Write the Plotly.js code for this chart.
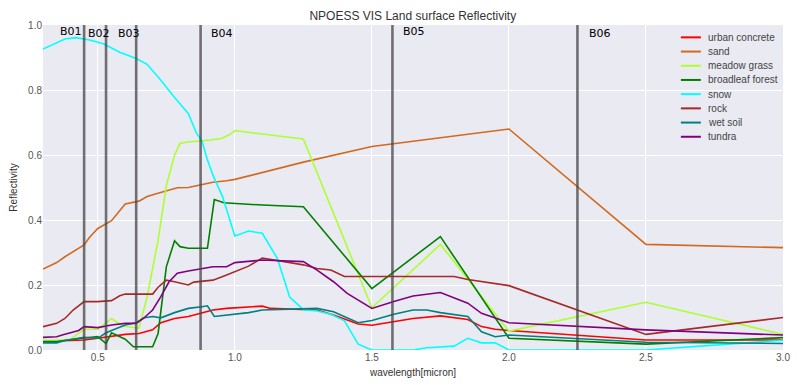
<!DOCTYPE html>
<html>
<head>
<meta charset="utf-8">
<script src="https://cdn.plot.ly/plotly-3.0.1.min.js"></script>
<style>html,body{margin:0;padding:0;background:#fff;}#chart{width:800px;height:385px;}</style>
</head>
<body>
<div id="chart"></div>
<script>
// ---- data ----
const seriesNames = ["urban concrete","sand","meadow grass","broadleaf forest","snow","rock","wet soil","tundra"];
const seriesColors = ["#FF0000","#D2691E","#ADFF2F","#008000","#00FFFF","#A52A2A","#008080","#800080"];

const urbanX = [0.3,0.45,0.5,0.55,0.6,0.65,0.7,0.73,0.78,0.83,0.88,0.92,0.97,1.02,1.1,1.13,1.25,1.3,1.36,1.45,1.5,1.58,1.65,1.75,1.85,1.9,1.95,2.0,2.5,3.0];
const urbanY = [0.026,0.031,0.036,0.043,0.048,0.051,0.062,0.084,0.097,0.103,0.115,0.123,0.128,0.131,0.135,0.128,0.123,0.123,0.108,0.080,0.076,0.087,0.097,0.105,0.094,0.072,0.064,0.060,0.031,0.031];

const sandX = [0.3,0.35,0.38,0.41,0.45,0.47,0.5,0.55,0.6,0.65,0.68,0.71,0.75,0.79,0.83,0.88,0.92,0.97,1.0,1.25,1.5,1.75,2.0,2.5,3.0];
const sandY = [0.249,0.269,0.287,0.303,0.323,0.347,0.374,0.398,0.449,0.458,0.472,0.48,0.49,0.499,0.5,0.51,0.516,0.521,0.525,0.578,0.626,0.653,0.68,0.325,0.315];

const grassX = [0.3,0.35,0.4,0.43,0.45,0.5,0.55,0.59,0.65,0.68,0.72,0.75,0.78,0.8,0.83,0.88,0.91,0.95,0.98,1.0,1.25,1.5,1.75,2.0,2.5,3.0];
const grassY = [0.03,0.03,0.033,0.051,0.064,0.064,0.097,0.074,0.067,0.164,0.338,0.506,0.6,0.636,0.64,0.644,0.646,0.651,0.662,0.675,0.649,0.13,0.325,0.058,0.147,0.048];

const forestX = [0.3,0.35,0.45,0.5,0.53,0.55,0.6,0.63,0.7,0.72,0.75,0.78,0.8,0.83,0.9,0.925,0.96,1.1,1.25,1.5,1.75,2.0,2.5,3.0];
const forestY = [0.026,0.026,0.037,0.041,0.02,0.053,0.033,0.01,0.01,0.051,0.256,0.336,0.318,0.313,0.313,0.463,0.453,0.446,0.441,0.189,0.349,0.036,0.018,0.038];

const snowX = [0.3,0.38,0.42,0.45,0.47,0.52,0.58,0.64,0.68,0.73,0.78,0.83,0.86,0.88,0.9,0.92,0.955,1.0,1.05,1.1,1.155,1.2,1.25,1.3,1.35,1.4,1.45,1.5,1.65,1.7,1.75,1.8,1.85,1.9,1.95,2.0,2.5,3.0];
const snowY = [0.926,0.957,0.961,0.957,0.954,0.942,0.916,0.897,0.879,0.83,0.777,0.728,0.667,0.643,0.585,0.538,0.472,0.351,0.366,0.359,0.282,0.163,0.124,0.12,0.11,0.09,0.018,0.0,0.0,0.007,0.009,0.012,0.036,0.022,0.022,0.0,0.0,0.03];

const rockX = [0.3,0.35,0.38,0.41,0.45,0.5,0.55,0.58,0.6,0.7,0.72,0.75,0.78,0.83,0.85,0.9,0.92,0.97,1.0,1.05,1.1,1.25,1.3,1.35,1.4,1.5,1.6,1.8,1.85,1.95,2.0,2.5,3.0];
const rockY = [0.072,0.082,0.097,0.123,0.149,0.149,0.152,0.167,0.172,0.172,0.193,0.215,0.21,0.2,0.209,0.212,0.215,0.231,0.241,0.258,0.283,0.262,0.251,0.246,0.226,0.226,0.226,0.226,0.217,0.203,0.198,0.048,0.1];

const soilX = [0.3,0.35,0.38,0.45,0.5,0.53,0.55,0.6,0.64,0.67,0.7,0.73,0.78,0.83,0.88,0.9,0.925,0.97,1.05,1.1,1.25,1.3,1.36,1.45,1.5,1.58,1.65,1.7,1.75,1.85,1.9,1.95,2.0,2.5,3.0];
const soilY = [0.022,0.022,0.029,0.039,0.036,0.053,0.06,0.077,0.084,0.099,0.103,0.099,0.115,0.128,0.133,0.136,0.103,0.108,0.115,0.123,0.128,0.128,0.118,0.084,0.091,0.11,0.123,0.123,0.115,0.103,0.056,0.041,0.046,0.024,0.02];

const tundraX = [0.3,0.35,0.37,0.4,0.43,0.45,0.5,0.55,0.6,0.64,0.67,0.7,0.73,0.76,0.79,0.83,0.88,0.92,0.97,1.0,1.1,1.25,1.3,1.36,1.41,1.5,1.58,1.65,1.75,1.85,1.9,2.0,2.5,3.0];
const tundraY = [0.039,0.041,0.046,0.053,0.06,0.072,0.069,0.077,0.082,0.082,0.1,0.123,0.164,0.21,0.236,0.243,0.251,0.256,0.256,0.269,0.277,0.272,0.246,0.21,0.174,0.128,0.149,0.166,0.177,0.144,0.113,0.084,0.062,0.046];

const bandNames = ["B01","B02","B03","B04","B05","B06"];
const bandCenters = [0.45,0.53,0.64,0.875,1.575,2.25];
const bandLabelX = [0.355,0.456,0.566,0.905,1.605,2.285];

const xTickVals = [0.5,1.0,1.5,2.0,2.5,3.0];
const yTickVals = [0.0,0.2,0.4,0.6,0.8,1.0];

// ---- build ----
const xs = [urbanX,sandX,grassX,forestX,snowX,rockX,soilX,tundraX];
const ys = [urbanY,sandY,grassY,forestY,snowY,rockY,soilY,tundraY];

const traces = seriesNames.map((n,i)=>({
  type:'scatter', mode:'lines', name:n, x:xs[i], y:ys[i],
  line:{color:seriesColors[i], width:1.6}, showlegend:false
}));

const shapes = [];
const annotations = [];
bandCenters.forEach((b,i)=>{
  shapes.push({type:'line', xref:'x', yref:'paper', x0:b, x1:b, y0:0, y1:1,
    line:{color:'rgba(70,70,70,0.75)', width:2.6}, layer:'above'});
  annotations.push({xref:'x', yref:'paper', x:bandLabelX[i], y:(i===0||i===4)?0.981:0.975,
    text:bandNames[i], showarrow:false, xanchor:'left', yanchor:'middle',
    font:{family:'DejaVu Sans', size:11, color:'#000'}});
});

// custom legend
const legX0 = 0.862, legX1 = 0.889, legTextX = 0.896, legY0 = 0.962, legStep = 0.0437;
seriesNames.forEach((n,i)=>{
  const yy = legY0 - i*legStep;
  shapes.push({type:'line', xref:'paper', yref:'paper', x0:legX0, x1:legX1, y0:yy, y1:yy,
    line:{color:seriesColors[i], width:2}});
  annotations.push({xref:'paper', yref:'paper', x:legTextX, y:yy, text:n, showarrow:false,
    xanchor:'left', yanchor:'middle', font:{family:'Liberation Sans, Arial', size:10, color:'#444'}});
});

const layout = {
  width:800, height:385,
  margin:{l:43, r:17, t:25, b:35},
  paper_bgcolor:'#ffffff', plot_bgcolor:'#EAEAF2',
  font:{family:'Liberation Sans, Arial', size:10, color:'#444'},
  title:{text:'NPOESS VIS Land surface Reflectivity', x:0.516, xanchor:'center', y:0.96, yanchor:'middle',
    font:{family:'Liberation Sans, Arial', size:12, color:'#333'}},
  xaxis:{range:[0.3,3.0], tickvals:xTickVals, tickformat:'.1f', showgrid:true, gridcolor:'#ffffff', gridwidth:1,
    zeroline:false, showline:false, ticks:'', title:{text:'wavelength[micron]', standoff:6, font:{size:10, color:'#333'}},
    tickfont:{size:10, color:'#555'}},
  yaxis:{range:[0,1.0], tickvals:yTickVals, tickformat:'.1f', showgrid:true, gridcolor:'#ffffff', gridwidth:1,
    zeroline:false, showline:false, ticks:'', title:{text:'Reflectivity', standoff:8, font:{size:10, color:'#333'}},
    tickfont:{size:10, color:'#555'}},
  shapes:shapes, annotations:annotations, showlegend:false
};

Plotly.newPlot('chart', traces, layout, {displayModeBar:false, staticPlot:true});
</script>
</body>
</html>
